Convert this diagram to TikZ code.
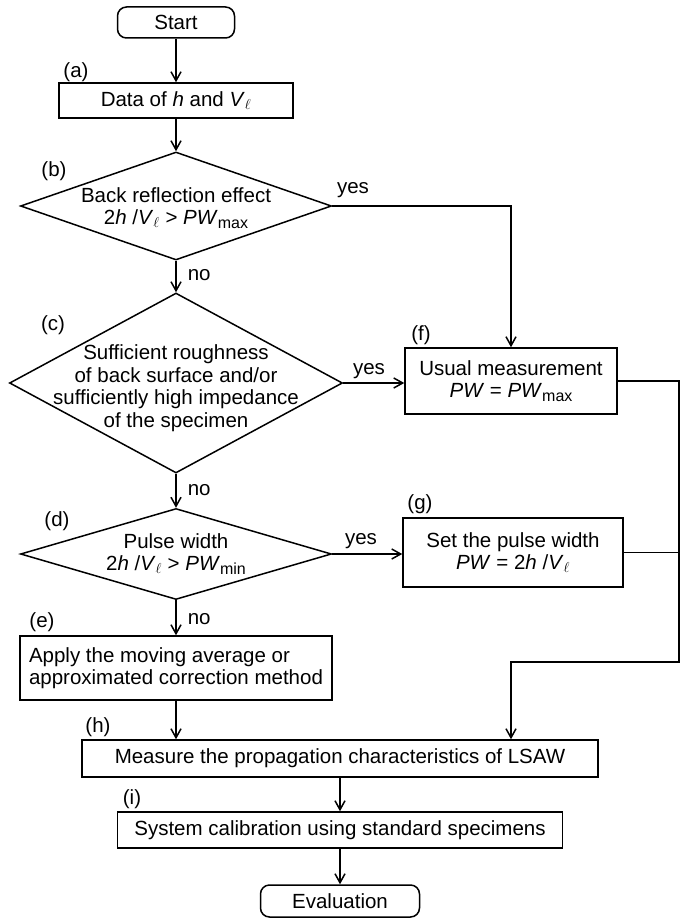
\documentclass[tikz,border=0pt]{standalone}
\usepackage{fontspec}
\setmainfont{Liberation Sans}
\usetikzlibrary{shapes.geometric,arrows.meta}

\newcommand{\Vl}{\textit{V}$_\ell$}
\newcommand{\pw}[1]{\textit{PW}\raisebox{-4pt}{\fontsize{16}{16}\selectfont #1}}

\begin{document}
\begin{tikzpicture}[x=1pt, y=-1pt, line width=1.5pt, font=\fontsize{20.5}{22.5}\selectfont,
    box/.style={draw, rectangle, align=center, inner sep=0pt},
    term/.style={draw, rectangle, rounded corners=9pt, inner sep=0pt},
    decision/.style={draw, diamond, inner sep=0pt},
    arr/.style={-{Straight Barb[length=9pt, width=10pt]}},
    tag/.style={inner sep=0pt},
    ans/.style={inner sep=4pt}]
    \useasboundingbox (0,0) rectangle (683,920);

    \node[term, minimum width=117pt, minimum height=31pt] (start) at (176,22.5) {Start};
    \node[box, minimum width=234pt, minimum height=35pt] (a) at (176,100.5) {Data of \textit{h} and \Vl};
    \node[decision, minimum width=311pt, minimum height=108pt,
        label={[align=center, yshift=-2pt]center:Back reflection effect\\2\textit{h} /\Vl{} > \pw{max}}] (b) at (176,206) {};
    \node[decision, minimum width=333pt, minimum height=180pt,
        label={[align=center, yshift=-5pt]center:Sufficient roughness\\of back surface and/or\\sufficiently high impedance\\of the specimen}] (c) at (176,383) {};
    \node[decision, minimum width=311pt, minimum height=91pt,
        label={[align=center]center:Pulse width\\2\textit{h} /\Vl{} > \pw{min}}] (d) at (176,554) {};
    \node[box, align=left, minimum width=312pt, minimum height=64pt] (e) at (176,668) {Apply the moving average or\\approximated correction method};
    \node[box, minimum width=212pt, minimum height=66pt] (f) at (511,381) {Usual measurement\\\textit{PW} = \pw{max}};
    \node[box, minimum width=220pt, minimum height=69pt] (g) at (513,552.5) {Set the pulse width\\\textit{PW} = 2\textit{h} /\Vl};
    \node[box, minimum width=516pt, minimum height=37pt] (h) at (340,758.5) {Measure the propagation characteristics of LSAW};
    \node[box, minimum width=445pt, minimum height=36pt] (i) at (340,830) {System calibration using standard specimens};
    \node[term, minimum width=159pt, minimum height=32pt] (eval) at (340,901) {Evaluation};

    \node[tag] (ta) at (76,72) {(a)};
    \node[tag] (tb) at (54,171) {(b)};
    \node[tag] (tc) at (53,325) {(c)};
    \node[tag] (td) at (57,521) {(d)};
    \node[tag] (te) at (42,622) {(e)};
    \node[tag] (tf) at (421,335) {(f)};
    \node[tag] (tg) at (420,504) {(g)};
    \node[tag] (th) at (98,727) {(h)};
    \node[tag] (ti) at (132,799) {(i)};

    \coordinate (trunk) at (679,662);

    \draw[arr] (start) -- (a);
    \draw[arr] (a) -- (b);
    \draw[arr] (b.south) node[ans, below right, xshift=7pt, yshift=-4pt] {no} -- (c.north);
    \draw[arr] (c.south) node[ans, below right, xshift=7pt, yshift=-6pt] {no} -- (d.north);
    \draw[arr] (d.south) node[ans, below right, xshift=7pt, yshift=-8pt] {no} -- (e.north);
    \draw[arr] (b.east) node[ans, above right, yshift=3pt] {yes} -| (f.north);
    \draw[arr] (c.east) node[ans, above right, xshift=5pt, yshift=-1pt] {yes} -- (c.east -| f.west);
    \draw[arr] (d.east) node[ans, above right, xshift=8pt, yshift=1pt] {yes} -- (d.east -| g.west);
    \draw (g.east) -- (g.east -| trunk);
    \draw[arr] (f.east) -| (trunk) -| (f.north |- h.north);
    \draw[arr] (e.south) -- (e.south |- h.north);
    \draw[arr] (h.south) -- (i.north);
    \draw[arr] (i.south) -- (eval.north);
\end{tikzpicture}
\end{document}
